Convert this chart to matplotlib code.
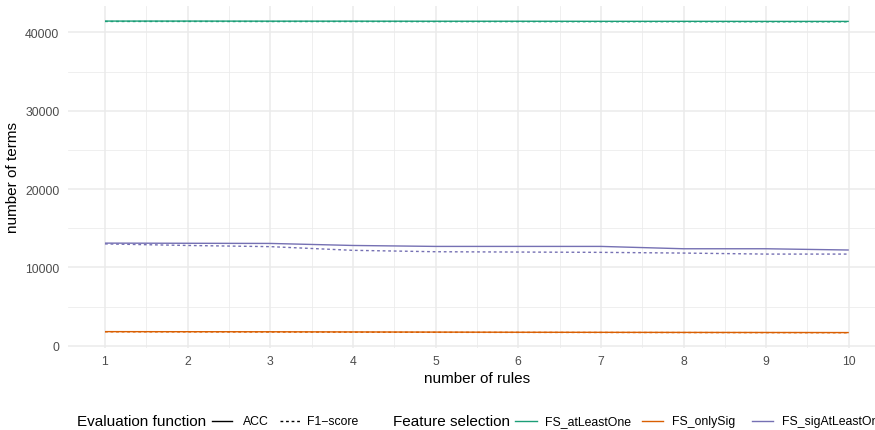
import numpy as np
import matplotlib.pyplot as plt
from matplotlib.lines import Line2D
from matplotlib.ticker import MultipleLocator

plt.rcParams['font.family'] = ['Liberation Sans', 'DejaVu Sans']

rules = [1, 2, 3, 4, 5, 6, 7, 8, 9, 10]

# number of terms per feature selection / evaluation function
atleast_acc = [41450, 41450, 41440, 41440, 41430, 41430, 41420, 41420, 41410, 41410]
atleast_f1 = [41400, 41400, 41390, 41390, 41380, 41380, 41370, 41370, 41360, 41360]
onlysig_acc = [1800, 1790, 1780, 1760, 1740, 1720, 1710, 1700, 1690, 1680]
onlysig_f1 = [1780, 1770, 1750, 1730, 1710, 1700, 1690, 1680, 1670, 1660]
sigatleast_acc = [13100, 13080, 13060, 12800, 12680, 12680, 12680, 12380, 12380, 12220]
sigatleast_f1 = [13000, 12800, 12650, 12180, 12000, 11960, 11920, 11830, 11700, 11700]

series = [
    ('FS_atLeastOne', '#1B9E77', atleast_acc, atleast_f1),
    ('FS_onlySig', '#D95F02', onlysig_acc, onlysig_f1),
    ('FS_sigAtLeastOne', '#7570B3', sigatleast_acc, sigatleast_f1),
]

W, H = 875, 431
fig = plt.figure(figsize=(W / 100, H / 100), dpi=100)
ax = fig.add_axes([67.8 / W, 1 - 349.3 / H, (886 - 67.8) / W, (349.3 - 6.5) / H])

dots = (0, (2, 2))
for name, col, acc, f1 in series:
    ax.plot(rules, acc, color=col, lw=1.0, solid_capstyle='butt')
    ax.plot(rules, f1, color=col, lw=1.0, linestyle=dots)

allv = np.concatenate([np.array(s[2] + s[3]) for s in series])
lo, hi = allv.min(), allv.max()
pad = (hi - lo) * 0.05
ax.set_ylim(lo - pad, hi + pad)
ax.set_xlim(1 - 0.45, 10 + 0.45)

ax.set_xticks(rules)
ax.set_yticks([0, 10000, 20000, 30000, 40000])
ax.xaxis.set_minor_locator(MultipleLocator(0.5))
ax.yaxis.set_minor_locator(MultipleLocator(5000))
ax.grid(which='major', color='#EBEBEB', lw=1.1)
ax.grid(which='minor', color='#EBEBEB', lw=0.55)
ax.set_axisbelow(True)
for s in ax.spines.values():
    s.set_visible(False)
ax.tick_params(which='both', length=0)
ax.tick_params(axis='x', labelsize=8.8, labelcolor='#4D4D4D', pad=5)
ax.tick_params(axis='y', labelsize=8.8, labelcolor='#4D4D4D', pad=6)

ax.set_xlabel('number of rules', fontsize=11, labelpad=3)
ax.set_ylabel('number of terms', fontsize=11, labelpad=4)

# legend along the bottom, drawn by hand (ggplot style: title left of keys)
ly = 1 - 422 / H
def key(x0, x1, col, ls='-'):
    fig.add_artist(Line2D([x0 / W, x1 / W], [ly, ly], color=col, lw=1.0,
                          linestyle=ls, transform=fig.transFigure))

fig.text(77 / W, ly, 'Evaluation function', fontsize=11, va='center')
key(212, 232, 'black')
fig.text(243 / W, ly, 'ACC', fontsize=8.8, va='center')
key(280, 300, 'black', dots)
fig.text(307 / W, ly, 'F1\u2212score', fontsize=8.8, va='center')

fig.text(393 / W, ly, 'Feature selection', fontsize=11, va='center')
key(515, 537, series[0][1])
fig.text(545 / W, ly, 'FS_atLeastOne', fontsize=8.8, va='center')
key(642, 663, series[1][1])
fig.text(672 / W, ly, 'FS_onlySig', fontsize=8.8, va='center')
key(752, 773, series[2][1])
fig.text(782 / W, ly, 'FS_sigAtLeastOne', fontsize=8.8, va='center')

fig.savefig('out.png', dpi=100)
